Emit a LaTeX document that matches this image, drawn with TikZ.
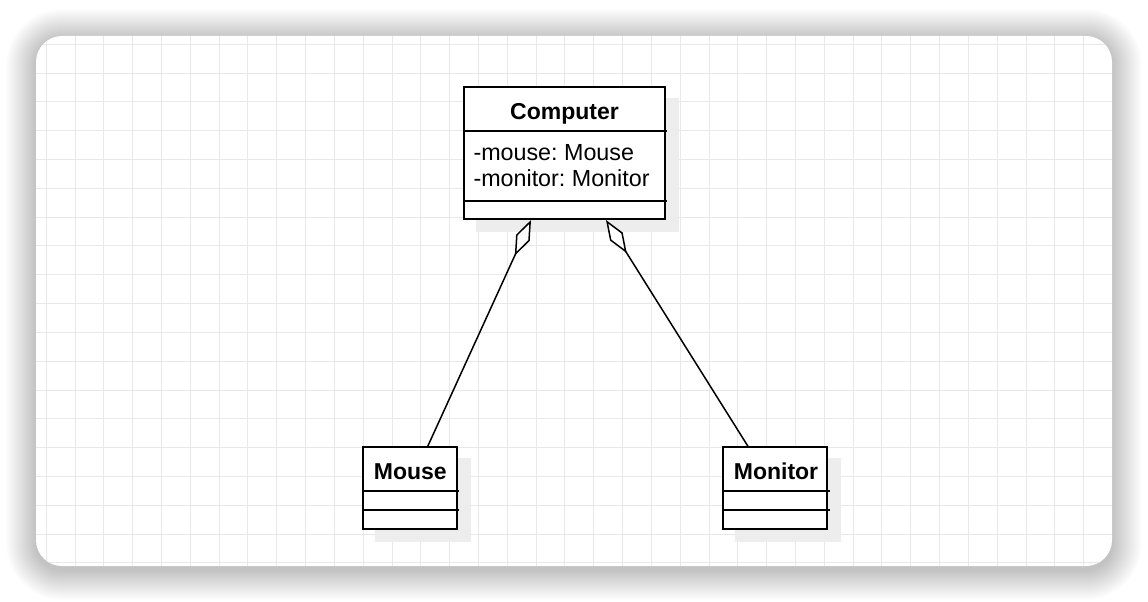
\documentclass[tikz,border=0pt]{standalone}
\usepackage{fontspec}
\setmainfont{Liberation Sans}
\frenchspacing
\usetikzlibrary{arrows.meta,calc}
\pgfdeclarelayer{bg}
\pgfdeclarelayer{shadowl}
\pgfsetlayers{bg,shadowl,main}
\begin{document}
\begin{tikzpicture}[x=1pt,y=-1pt,
  cls/.style={draw=black, line width=2pt, fill=white, inner sep=0pt},
  shad/.style={fill=black!7, draw=none},
  sep/.style={line width=1.9pt},
  ttl/.style={anchor=base, font=\fontsize{23}{26}\selectfont\bfseries, inner sep=0pt},
  attr/.style={anchor=base west, font=\fontsize{23.3}{26}\selectfont, inner sep=0pt},
  gridc/.style={draw=black!9, line width=1pt},
  agg/.style={line width=1.5pt, {Diamond[fill=white,length=39pt,width=15pt]}-}
]
\useasboundingbox (0,0) rectangle (1148,602);
\begin{pgfonlayer}{bg}
\fill[white] (0,0) rectangle (1148,602);
\foreach \i in {1,...,30}{
  \pgfmathsetmacro{\rr}{26+\i}
  \fill[black, fill opacity=0.006, rounded corners=\rr pt] (36-\i, 39-\i) rectangle (1112+\i, 570+\i);
}
\fill[white, rounded corners=26pt] (36,36) rectangle (1112,566);
\begin{scope}
\clip[rounded corners=26pt] (36,36) rectangle (1112,566);
\foreach \k in {0,...,37} \draw[gridc] (46.2+28.82*\k,36) -- ++(0,530);
\foreach \k in {0,...,18} \draw[gridc] (36,44.2+28.82*\k) -- ++(1076,0);
\end{scope}
\end{pgfonlayer}

% classes
\node[cls, minimum width=201pt, minimum height=131.7pt] (computer) at (564,153.2) {};
\node[cls, minimum width=94pt, minimum height=81.7pt] (mouse) at (409.7,488.2) {};
\node[cls, minimum width=104.6pt, minimum height=81.7pt] (monitor) at (775,488.2) {};

\begin{pgfonlayer}{shadowl}
\fill[shad] ($(computer.north west)+(13,12)$) rectangle ($(computer.south east)+(13,12)$);
\fill[shad] ($(mouse.north west)+(13,12)$) rectangle ($(mouse.south east)+(13,12)$);
\fill[shad] ($(monitor.north west)+(13,12)$) rectangle ($(monitor.south east)+(13,12)$);
\end{pgfonlayer}

\draw[sep] ($(computer.north west)+(1,45)$) -- ($(computer.north east)+(1.5,45)$);
\draw[sep] ($(computer.north west)+(1,114.4)$) -- ($(computer.north east)+(1.5,114.4)$);
\draw[sep] ($(mouse.north west)+(1,45)$) -- ($(mouse.north east)+(1.5,45)$);
\draw[sep] ($(mouse.north west)+(1,63.4)$) -- ($(mouse.north east)+(1.5,63.4)$);
\draw[sep] ($(monitor.north west)+(1,45)$) -- ($(monitor.north east)+(1.5,45)$);
\draw[sep] ($(monitor.north west)+(1,63.4)$) -- ($(monitor.north east)+(1.5,63.4)$);

\node[ttl] (computerT) at (564.5,119) {Computer};
\node[attr] (a1) at (473.3,160) {-mouse: Mouse};
\node[attr] (a2) at (473.3,186.7) {-monitor: Monitor};
\node[ttl] (mouseT) at (410.3,479) {Mouse};
\node[ttl] (monitorT) at (776,479) {Monitor};

% aggregations
\coordinate (c1) at ($(computer.south)+(-33,0)$);
\coordinate (m1) at ($(mouse.north)+(18,0)$);
\coordinate (c2) at ($(computer.south)+(42,0)$);
\coordinate (m2) at ($(monitor.north)+(-27,0)$);
\draw[agg] (c1) -- (m1);
\draw[agg] (c2) -- (m2);
\end{tikzpicture}
\end{document}
